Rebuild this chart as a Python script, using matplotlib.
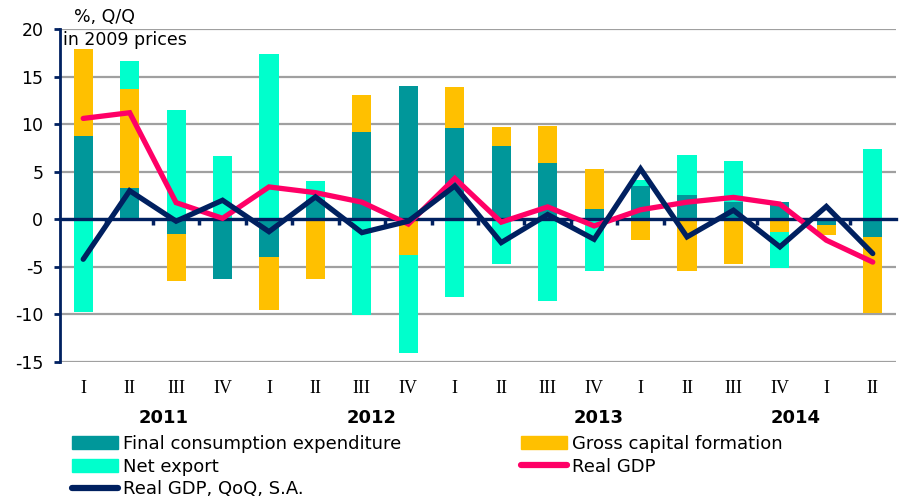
import matplotlib
matplotlib.use("Agg")
import matplotlib.pyplot as plt
from matplotlib.patches import Patch
from matplotlib.lines import Line2D
import numpy as np

categories = ["I", "II", "III", "IV", "I", "II", "III", "IV", "I", "II",
              "III", "IV", "I", "II", "III", "IV", "I", "II"]
years = ["2011", "2012", "2013", "2014"]
year_pos = [1.74, 6.21, 11.10, 15.34]

fce = [8.8, 3.3, -1.5, -6.3, -4.0, 2.0, 9.2, 14.0, 9.6, 7.7, 5.9, 1.05, 3.5, 2.6, 1.8, 1.8, -0.6, -1.9]
gcf = [9.1, 10.35, -5.0, 0.0, -5.5, -6.3, 3.9, -3.8, 4.3, 2.05, 3.9, 4.25, -2.2, -5.4, -4.7, -1.3, -1.1, -8.0]
nx = [-9.7, 3.0, 11.45, 6.6, 17.4, 2.0, -10.1, -10.3, -8.2, -4.7, -8.6, -5.4, 0.6, 4.2, 4.3, -3.8, 0.0, 7.35]
real_gdp = [10.6, 11.2, 1.75, 0.1, 3.4, 2.8, 1.8, -0.5, 4.3, -0.3, 1.3, -0.7, 1.0, 1.8, 2.3, 1.6, -2.2, -4.5]
qoq_sa = [-4.2, 3.0, -0.2, 2.0, -1.3, 2.35, -1.4, -0.2, 3.5, -2.45, 0.5, -2.1, 5.3, -1.85, 0.95, -2.9, 1.35, -3.6]

C_FCE = "#00979A"
C_GCF = "#FFC000"
C_NX = "#00FFCC"
C_GDP = "#FF0066"
C_QOQ = "#002060"

plt.rcParams['font.family'] = ['DejaVu Sans']
plt.rcParams['axes.unicode_minus'] = False

fig = plt.figure(figsize=(9, 4.98), dpi=100)
ax = fig.add_axes([60/900, 1-362/498, (896-60)/900, (362-29)/498])

x = np.arange(len(categories))
w = 0.41
pos_base = np.zeros(len(x))
neg_base = np.zeros(len(x))
for vals, col in [(fce, C_FCE), (gcf, C_GCF), (nx, C_NX)]:
    v = np.array(vals, dtype=float)
    bottoms = np.where(v >= 0, pos_base, neg_base)
    ax.bar(x, v, w, bottom=bottoms, color=col, zorder=2, linewidth=0)
    pos_base = pos_base + np.where(v > 0, v, 0)
    neg_base = neg_base + np.where(v < 0, v, 0)

ax.plot(x, real_gdp, color=C_GDP, lw=3.8, solid_capstyle='round', solid_joinstyle='miter', zorder=4)
ax.plot(x, qoq_sa, color=C_QOQ, lw=3.8, solid_capstyle='round', solid_joinstyle='miter', zorder=5)

ax.set_xlim(-0.5, 17.5)
ax.set_ylim(-15, 20)
ax.set_yticks(np.arange(-15, 21, 5))
ax.yaxis.grid(True, color="#A0A0A0", lw=1.6, zorder=0)
ax.set_axisbelow(True)
ax.tick_params(axis='y', direction='out', length=4, width=2, color=C_QOQ, labelsize=12.5, pad=8)

for s in ['top', 'right']:
    ax.spines[s].set_visible(False)
ax.spines['left'].set_color(C_QOQ)
ax.spines['left'].set_linewidth(2)
ax.spines['bottom'].set_position(('data', 0))
ax.spines['bottom'].set_color(C_QOQ)
ax.spines['bottom'].set_linewidth(2.4)
ax.spines['bottom'].set_zorder(3)
ax.set_xticks([])
ax.set_xticks(np.arange(0.5, 17, 1), minor=True)
ax.tick_params(axis='x', which='minor', direction='out', length=4, width=2.5, color=C_QOQ, labelbottom=False)

sec = ax.secondary_xaxis(0)
sec.set_xticks(x, categories, fontfamily='Liberation Serif', fontsize=13)
sec.tick_params(length=0, pad=13)
sec.spines['bottom'].set_visible(False)

for yr, p in zip(years, year_pos):
    ax.text(p, -0.168, yr, transform=ax.get_xaxis_transform(), ha='center', va='center',
            fontsize=13, fontweight='bold')

fig.text(105/900, 1-17/498, "%, Q/Q", ha='center', va='center', fontsize=12.5)
fig.text(63/900, 1-40/498, "in 2009 prices", ha='left', va='center', fontsize=12.5)

handles = [Patch(color=C_FCE), Patch(color=C_NX),
           Line2D([0], [0], color=C_QOQ, lw=4.5, solid_capstyle='round'),
           Patch(color=C_GCF),
           Line2D([0], [0], color=C_GDP, lw=4.5, solid_capstyle='round')]
labels = ["Final consumption expenditure", "Net export", "Real GDP, QoQ, S.A.",
          "Gross capital formation", "Real GDP"]
fig.legend(handles, labels, loc='upper left', bbox_to_anchor=(72/900, 1-435/498), ncol=2,
           frameon=False, fontsize=13, handlelength=2.55, handletextpad=0.28,
           columnspacing=6.6, labelspacing=0.26, borderpad=0, borderaxespad=0)

fig.savefig("out.png", dpi=100)
